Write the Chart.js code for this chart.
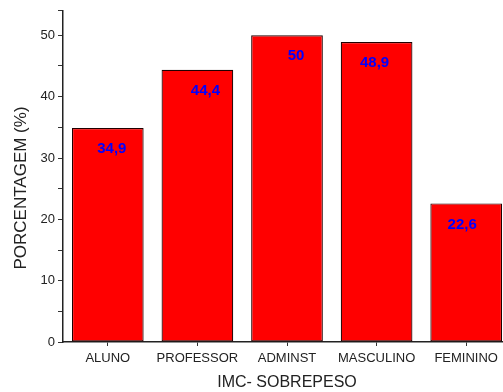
<!DOCTYPE html>
<html>
<head>
<meta charset="utf-8">
<script src="https://cdn.jsdelivr.net/npm/chart.js@4/dist/chart.umd.min.js"></script>
<style>
  html, body { margin: 0; padding: 0; background: #fff; overflow: hidden; }
  #wrap { width: 520px; height: 392px; position: relative; }
</style>
</head>
<body>
<div id="wrap"><canvas id="chart"></canvas></div>
<script>
// ─── Data ─────────────────────────────────────────────────────────────────────
const categories = ['ALUNO', 'PROFESSOR', 'ADMINST', 'MASCULINO', 'FEMININO'];
const values     = [34.9, 44.4, 50, 48.9, 22.6];
const yTicks     = [0, 10, 20, 30, 40, 50];

const FONT = 'Liberation Sans, Arial, sans-serif';
// small horizontal nudges of the value labels, as in the original
const LABEL_NUDGE = [4, 8, 9, -2, -4];

// blue value labels inside the bars, just under the top edge
const valueLabels = {
    id: 'valueLabels',
    afterDatasetsDraw(chart) {
        const { ctx } = chart;
        const meta = chart.getDatasetMeta(0);
        ctx.save();
        ctx.font = 'bold 15px ' + FONT;
        ctx.fillStyle = '#0000ff';
        ctx.textAlign = 'center';
        ctx.textBaseline = 'middle';
        meta.data.forEach((bar, i) => {
            const txt = String(values[i]).replace('.', ',');
            ctx.fillText(txt, bar.x + LABEL_NUDGE[i], bar.y + 21);
        });
        ctx.restore();
    }
};

// y title drawn by hand so it can sit a bit lower than the axis centre
const yTitle = {
    id: 'yTitle',
    afterDraw(chart) {
        const { ctx } = chart;
        ctx.save();
        ctx.translate(21, 188);
        ctx.rotate(-Math.PI / 2);
        ctx.font = '17px ' + FONT;
        ctx.fillStyle = '#222';
        ctx.textAlign = 'center';
        ctx.textBaseline = 'middle';
        ctx.fillText('PORCENTAGEM (%)', 0, 0);
        ctx.restore();
    }
};

new Chart(document.getElementById('chart'), {
    type: 'bar',
    data: {
        labels: categories,
        datasets: [{
            data: values,
            backgroundColor: '#ff0000',
            borderColor: '#200000',
            borderWidth: 1.2,
            borderSkipped: false,
            barPercentage: 0.8,
            categoryPercentage: 1.0
        }]
    },
    options: {
        responsive: true,
        maintainAspectRatio: false,
        animation: false,
        layout: { padding: { top: 10, right: 9, left: 0, bottom: 0 } },
        plugins: {
            legend: { display: false },
            tooltip: { enabled: false }
        },
        scales: {
            x: {
                afterFit: (s) => { s.height = 50; },
                grid: {
                    display: true,
                    drawOnChartArea: false,
                    offset: false,
                    tickLength: 4,
                    color: '#333'
                },
                border: { color: '#222', width: 1.5 },
                ticks: {
                    color: '#222',
                    font: { family: FONT, size: 13 },
                    padding: 5
                },
                title: {
                    display: true,
                    text: 'IMC- SOBREPESO',
                    color: '#222',
                    font: { family: FONT, size: 16 },
                    padding: { top: 0, bottom: 0 }
                }
            },
            y: {
                min: 0,
                max: 54,
                afterFit: (s) => { s.width = 63; },
                grid: {
                    display: true,
                    drawOnChartArea: false,
                    tickLength: 5,
                    color: '#333'
                },
                border: { color: '#222', width: 1.5 },
                ticks: {
                    stepSize: 5,
                    color: '#222',
                    font: { family: FONT, size: 13 },
                    padding: 3,
                    callback: (v) => yTicks.includes(v) ? v : ''
                },
                title: { display: false }
            }
        }
    },
    plugins: [valueLabels, yTitle]
});
</script>
</body>
</html>
